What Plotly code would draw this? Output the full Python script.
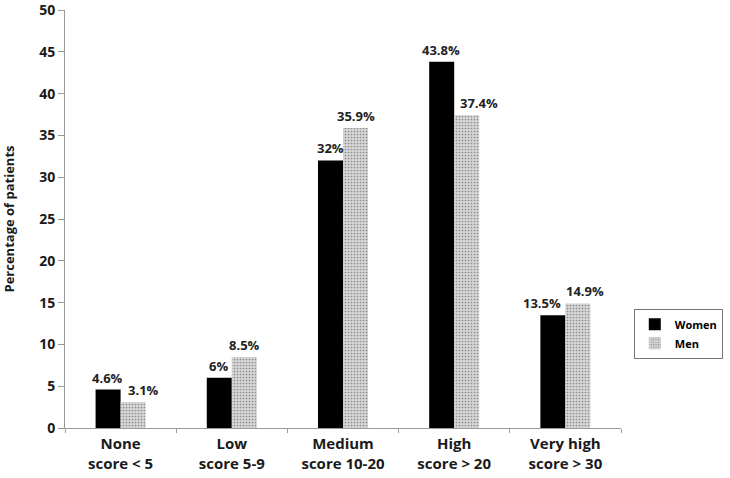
import plotly.graph_objects as go

categories = ["None<br>score &lt; 5", "Low<br>score 5-9", "Medium<br>score 10-20",
              "High<br>score &gt; 20", "Very high<br>score &gt; 30"]
women = [4.6, 6, 32, 43.8, 13.5]
men = [3.1, 8.5, 35.9, 37.4, 14.9]
women_labels = ["4.6%", "6%", "32%", "43.8%", "13.5%"]
men_labels = ["3.1%", "8.5%", "35.9%", "37.4%", "14.9%"]

font = "Open Sans"
txt = dict(family=font, size=13, color="#222222", weight="bold")

fig = go.Figure()
fig.add_trace(go.Bar(
    x=categories, y=women, name="Women",
    marker=dict(color="black", line=dict(width=0)),
))
fig.add_trace(go.Bar(
    x=categories, y=men, name="Men",
    marker=dict(color="#c4c4c4", line=dict(width=0),
                pattern=dict(shape=".", fgcolor="#8c8c8c", bgcolor="#d6d6d6",
                             size=3, solidity=0.25, fillmode="replace")),
))

# value labels above the bars, nudged sideways where the reference nudges them
women_nudge = [0, 0, 0, 0, -10]
men_nudge = [10, 0, 0, 12, 7]
for c, v, t, n in zip(categories, women, women_labels, women_nudge):
    fig.add_annotation(x=c, y=v, text=t, showarrow=False, yanchor="bottom",
                       xshift=-13 + n, yshift=1, font=txt)
for c, v, t, n in zip(categories, men, men_labels, men_nudge):
    fig.add_annotation(x=c, y=v, text=t, showarrow=False, yanchor="bottom",
                       xshift=13 + n, yshift=1, font=txt)

fig.update_layout(
    width=730, height=478,
    margin=dict(l=65, r=109, t=10, b=50, autoexpand=False),
    barmode="group", bargap=0.55, bargroupgap=0,
    plot_bgcolor="white", paper_bgcolor="white",
    font=dict(family=font, size=13, color="#222222"),
    legend=dict(x=1.023, y=0.285, xanchor="left", yanchor="top",
                bordercolor="#777777", borderwidth=1,
                font=dict(family=font, size=11, color="black", weight="bold"),
                itemwidth=30, tracegroupgap=0),
)
fig.update_xaxes(
    showline=True, linecolor="#9a9a9a", linewidth=1,
    ticks="outside", tickson="boundaries", tickcolor="#9a9a9a", ticklen=4,
    ticklabelstandoff=2,
    tickfont=dict(family=font, size=15, color="#1a1a1a", weight="bold"),
    showgrid=False,
)
fig.update_yaxes(
    range=[0, 50], dtick=5, showline=True, linecolor="#9a9a9a", linewidth=1,
    ticks="outside", tickcolor="#9a9a9a", ticklen=6,
    ticklabeloverflow="allow",
    tickfont=dict(family=font, size=14, color="#1a1a1a", weight="bold"),
    title=dict(text="Percentage of patients", standoff=22,
               font=dict(family=font, size=13, color="#1a1a1a", weight="bold")),
    showgrid=False, zeroline=False,
)

fig.write_html("out.html", config={"displayModeBar": False},
               post_script="document.body.style.margin='0px';")
